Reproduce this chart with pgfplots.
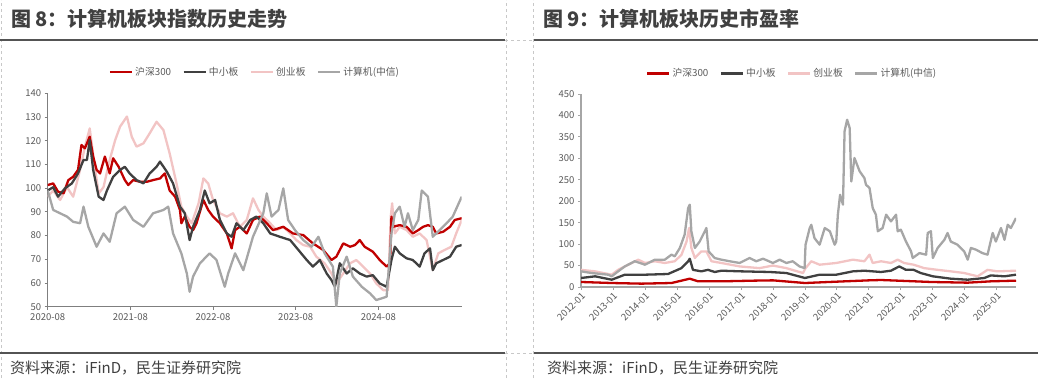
\documentclass[border=0pt]{standalone}
\usepackage{fontspec}
\setmainfont{Noto Sans CJK SC}
\usepackage{pgfplots}
\pgfplotsset{compat=1.18}
\definecolor{cRed}{HTML}{C00000}
\definecolor{cDark}{HTML}{404040}
\definecolor{cPink}{HTML}{F2C4C4}
\definecolor{cGray}{HTML}{A6A6A6}
\definecolor{cText}{HTML}{595959}
\definecolor{cTitle}{HTML}{404040}
\definecolor{cAxisL}{HTML}{7F7F7F}
\definecolor{cAxisR}{HTML}{A6A6A6}
\definecolor{cSep}{HTML}{C8C8C8}

\pgfplotstableread{
x y
0 101.3
0.8 102
1.5 98.5
2.3 97.8
3.0 103.4
3.7 104.8
4.4 107.7
4.9 118.2
5.4 116.8
6.1 121.7
6.6 113.3
7.1 107.7
7.6 106.2
8.3 113.3
9.0 106.2
9.5 112.6
10.3 109
11.2 103.4
11.7 101.3
12.4 103.4
13.4 102.7
14.4 102.7
15.3 103.4
16.3 104.1
17.0 106.2
17.7 99
18.5 96.4
19.2 90.8
19.4 85.2
19.9 88
20.6 83.7
21.1 82.3
21.6 85.2
22.6 95
23.3 90.8
24.0 88
25.0 85.2
26.0 80.9
26.7 74.6
27.2 82.3
27.9 83.7
28.9 80.9
29.8 86.6
30.8 88
31.8 85.2
32.7 82.3
34.2 83.7
35.6 80.9
37.1 80.2
38.5 76.7
40.0 73.9
41.2 69.7
41.9 71.1
42.9 76.7
43.9 75.3
44.6 76
45.3 78.1
46.0 75.3
47.2 73.2
48.2 69.7
49.2 66.9
49.7 68.3
49.9 88
50.1 83.7
51.1 84.4
52.1 83.7
53.0 80.9
53.8 82.3
54.5 83.7
55.2 84.4
55.9 83.7
56.4 80.9
57.4 81.6
58.4 83.7
59.1 86.6
60.1 87.3
}\LRed

\pgfplotstableread{
x y
0 99
0.8 100.4
1.5 96.4
2.5 99.9
3.5 102
4.4 106.2
5.2 111.9
5.7 111.9
6.1 120.3
6.6 107.7
7.4 96.4
8.1 95
8.6 99
9.5 104.8
10.5 107.7
11.2 109
11.9 106.2
12.9 103.4
13.9 102
14.8 106.2
15.8 109
16.3 111.2
17.3 106.9
18.2 102
19.2 92.2
19.9 89.4
20.6 78.1
21.1 83.7
22.1 90.8
22.8 99
23.5 93.6
24.3 95
25.0 86.6
26.0 80.9
26.7 79.5
27.4 85.2
28.4 82.3
29.4 86.6
30.3 88
31.3 85.2
32.3 80.9
33.7 79.5
35.2 78.1
36.4 73.9
37.6 69.7
38.5 66.9
39.5 69.7
40.5 64
41.2 61.2
41.7 58.4
42.4 68.3
43.4 64
44.3 66.2
45.3 64
46.3 62.7
47.2 63.3
48.2 59.8
49.2 58.4
49.9 69.7
50.4 75.3
51.1 72.5
52.1 70.4
53.0 69.7
54.0 66.9
54.7 72.5
55.5 74.6
55.9 65.4
56.4 68.3
57.4 69.7
58.4 71.1
59.3 75.3
60.1 76
}\LDark

\pgfplotstableread{
x y
0 96.4
0.8 99
1.8 95
2.8 100.4
3.7 96.4
4.7 107.7
5.4 117.5
6.1 125.2
6.9 107.7
7.4 97.8
8.1 100.4
9.0 111.9
9.8 120.3
10.5 125.9
11.5 130.2
12.2 121.7
12.9 117.5
13.9 118.9
14.8 123.1
15.8 128
16.8 124.5
17.7 114.7
18.7 102
19.4 92.2
20.2 88
20.9 85.2
21.9 93.6
22.6 104.1
23.3 102
24.0 95
25.0 89.4
26.0 88
26.9 89.4
27.9 83.7
28.9 86.6
29.8 95.7
30.6 90.8
31.3 88
32.3 85.2
33.2 82.3
34.2 83.7
35.2 80.9
36.1 78.1
37.1 76
38.1 75.3
39.0 71.1
40.2 68.3
41.2 64
41.9 59.8
42.9 64
43.9 68.3
44.8 69.7
45.8 66.9
46.8 64
47.7 59.8
48.7 57
49.4 57
49.8 88
50.0 93.6
50.4 80.9
51.1 83.7
52.1 82.3
53.0 79.5
54.0 80.9
55.0 78.1
55.9 65.4
56.7 72.5
57.6 73.9
58.6 75.3
59.3 80.9
60.1 86.6
}\LPink

\pgfplotstableread{
x y
0 99
0.8 90.8
1.8 89.4
2.8 88
3.7 85.8
4.7 85.2
5.2 92.2
5.9 83.7
7.1 75.3
8.1 80.9
9.0 77.4
10.0 89.4
11.2 92.2
12.4 86.6
13.9 83.7
15.3 89.4
16.8 90.8
17.5 92.2
18.2 80.9
19.4 72.5
20.2 64
20.6 56.3
21.1 62.7
22.1 68.3
23.5 72.5
24.5 69.7
25.7 58.4
26.2 64
27.2 72.5
28.4 65.4
29.8 79.5
31.3 89.4
31.8 97.8
32.5 88
33.5 90.8
34.2 99.9
34.9 86.6
35.9 82.3
37.1 78.1
38.3 75.3
39.3 79.5
40.2 72.5
41.4 66.9
41.9 50
42.4 64
43.4 71.1
44.3 62.7
45.6 58.4
46.8 55.6
47.7 52.8
49.2 54.2
49.9 80.9
50.4 89.4
51.1 92.2
51.8 83.7
52.3 89.4
53.0 82.3
53.8 86.6
54.3 99
55.2 96.4
55.9 79.5
56.9 82.3
57.9 85.2
58.8 88
60.1 96.4
}\LGray

\pgfplotstableread{
x y
0 11.7
0.96 9.3
1.89 7.8
2.83 9.3
3.14 14.8
3.40 19.4
3.66 13.2
4.39 13.2
5.4 14.8
6.0 15.5
7.0 9.3
7.98 12.4
9.0 15.5
9.38 16.3
9.9 14.8
10.94 11.7
12.09 10.1
12.81 13.2
13.6 14.8
}\RRed

\pgfplotstableread{
x y
0 21
0.44 24.9
0.96 17
1.37 28.7
2.0 28.7
2.72 30.3
3.14 44
3.35 60
3.40 66
3.50 40
3.76 36.5
3.97 40
4.18 35
4.39 38
5.0 36.5
5.9 35
6.42 32.6
7.0 21
7.46 28.7
7.98 28.7
8.5 36.5
8.86 38
9.38 35
9.69 38
9.95 48
10.16 40
10.4 40
10.62 32.6
11.0 24.9
11.56 19.4
12.09 17
12.61 21
12.81 27
13.24 24.9
13.6 28.7
}\RDark

\pgfplotstableread{
x y
0 40
0.44 36.5
0.96 28.7
1.16 40
1.48 52
1.79 63.7
2.0 56
2.31 60
2.62 56
2.93 60
3.14 75
3.30 106
3.38 137.5
3.45 91
3.56 67.6
3.76 83
3.92 83
4.08 60
4.39 56
4.96 48
5.58 44
6.0 50
6.42 44
6.94 32.6
7.02 44
7.2 60
7.46 52
7.98 56
8.5 63.7
8.86 60
9.02 75.4
9.12 56
9.38 60
9.69 56
9.9 63.7
10.1 56
10.4 52
10.73 44
11.15 40
11.56 36.5
11.98 32.6
12.4 24.9
12.71 40
13.02 36.5
13.6 38
}\RPink

\pgfplotstableread{
x y
0 36.5
0.33 32.6
0.85 28.7
0.96 24.9
1.16 36.5
1.37 48
1.68 60
2.0 52
2.31 63.7
2.62 63.7
2.83 75.4
2.93 71.5
3.09 91
3.24 122
3.35 184
3.40 192
3.45 130
3.56 91
3.71 106
3.87 130
3.92 137.5
3.99 83
4.18 67.6
4.39 63.7
4.65 60
4.96 56
5.27 67.6
5.48 60
5.69 66
6.0 56
6.21 63.7
6.42 56
6.62 60
6.83 48
6.99 44
7.02 98.7
7.15 137.5
7.2 145
7.3 114
7.46 98.7
7.62 137.5
7.78 130
7.93 98.7
7.98 106
8.03 168.6
8.1 215
8.19 192
8.24 363
8.32 390
8.4 370.6
8.45 246
8.55 300.7
8.71 270
8.86 254
8.91 238.5
9.02 230.8
9.12 184
9.22 168.6
9.28 130
9.43 137.5
9.54 168.6
9.69 153
9.85 168.6
9.9 130
10.0 133.6
10.16 106
10.32 83
10.37 67.6
10.58 79
10.79 75.4
10.84 126
10.94 130
11.0 67.6
11.15 91
11.36 110
11.46 126
11.56 106
11.77 98.7
11.98 83
12.09 63.7
12.19 91
12.35 87
12.55 79
12.71 75.4
12.87 126
12.97 106
13.13 137.5
13.24 110
13.34 145
13.44 137.5
13.6 160.8
}\RGray

\pgfplotsset{
  panel/.style={
    scale only axis,
    axis x line*=bottom,
    axis y line*=left,
    tick align=outside,
    major tick length=3pt,
    ticklabel style={font=\fontsize{9.5}{10}\selectfont, text=cText},
    /pgf/number format/assume math mode=true,
    legend columns=4,
    legend cell align=left,
    legend style={draw=none, fill=none, inner sep=0pt,
      font=\fontsize{9.8}{10}\selectfont, text=cText,
      /tikz/every even column/.append style={column sep=9pt}},
    legend image code/.code={\draw[#1, line width=2.8pt] (0pt,0pt) -- (22pt,0pt);},
    every axis plot/.append style={line width=2.3pt, line join=round},
  }
}

\begin{document}
\begin{tikzpicture}[x=1pt,y=1pt]
\path[use as bounding box] (0,0) rectangle (1038,378);
% separators
\draw[cSep, dashed, line width=0.6pt] (1,0) -- (1,378);
\draw[cSep, dashed, line width=0.6pt] (506,0) -- (506,378);
\draw[cSep, dashed, line width=0.6pt] (533,0) -- (533,378);
\draw[cSep, dashed, line width=0.6pt] (505,338) -- (534,338);
\draw[cSep, dashed, line width=0.6pt] (505,25) -- (534,25);
\draw[cTitle!90, line width=2pt] (0,338) -- (505,338);
\draw[cTitle!90, line width=2pt] (534,338) -- (1038,338);
\draw[cTitle!90, line width=2pt] (0,25) -- (505,25);
\draw[cTitle!90, line width=2pt] (534,25) -- (1038,25);
% titles
\node[anchor=west, inner sep=0pt, text=cTitle, font=\fontsize{20}{21}\selectfont\bfseries] at (11,359) {图 8：计算机板块指数历史走势};
\node[anchor=west, inner sep=0pt, text=cTitle, font=\fontsize{20}{21}\selectfont\bfseries] at (543,359) {图 9：计算机板块历史市盈率};
% sources
\node[anchor=west, inner sep=0pt, text=cTitle, font=\fontsize{15}{16}\selectfont] at (10,10) {资料来源：iFinD，民生证券研究院};
\node[anchor=west, inner sep=0pt, text=cTitle, font=\fontsize{15}{16}\selectfont] at (547,10) {资料来源：iFinD，民生证券研究院};

% left chart
\begin{axis}[panel,
  at={(47.7pt,71.3pt)}, anchor=south west,
  width=414pt, height=213.4pt,
  xmin=0, xmax=60.1, ymin=50, ymax=140,
  ytick={50,60,...,140},
  xtick={0,12,24,36,48},
  xticklabels={2020-08,2021-08,2022-08,2023-08,2024-08},
  axis line style={-, draw=cAxisL, line width=0.9pt},
  tick style={draw=cAxisL, line width=0.8pt},
  legend style={at={(0.5,1.1)}, anchor=center},
]
\addlegendimage{cRed}\addlegendentry{沪深300}
\addlegendimage{cDark}\addlegendentry{中小板}
\addlegendimage{cPink}\addlegendentry{创业板}
\addlegendimage{cGray}\addlegendentry{计算机(中信)}
\addplot[cPink, forget plot] table[x=x,y=y] {\LPink};
\addplot[cRed, forget plot] table[x=x,y=y] {\LRed};
\addplot[cDark, forget plot] table[x=x,y=y] {\LDark};
\addplot[cGray, forget plot] table[x=x,y=y] {\LGray};
\end{axis}

% right chart
\begin{axis}[panel,
  at={(581pt,91pt)}, anchor=south west,
  width=435pt, height=193pt,
  xmin=0, xmax=13.6, ymin=0, ymax=450,
  ytick={0,50,...,450},
  xtick={0,1,...,13},
  xticklabels={2012-01,2013-01,2014-01,2015-01,2016-01,2017-01,2018-01,2019-01,2020-01,2021-01,2022-01,2023-01,2024-01,2025-01},
  xticklabel style={rotate=45, anchor=north east, inner sep=1pt},
  axis line style={-, draw=cAxisR, line width=1.4pt},
  tick style={draw=cAxisR, line width=0.8pt},
  legend style={at={(0.485,1.107)}, anchor=center},
]
\addlegendimage{cRed}\addlegendentry{沪深300}
\addlegendimage{cDark}\addlegendentry{中小板}
\addlegendimage{cPink}\addlegendentry{创业板}
\addlegendimage{cGray}\addlegendentry{计算机(中信)}
\addplot[cRed, forget plot] table[x=x,y=y] {\RRed};
\addplot[cDark, forget plot] table[x=x,y=y] {\RDark};
\addplot[cPink, forget plot] table[x=x,y=y] {\RPink};
\addplot[cGray, forget plot] table[x=x,y=y] {\RGray};
\end{axis}
\end{tikzpicture}
\end{document}
